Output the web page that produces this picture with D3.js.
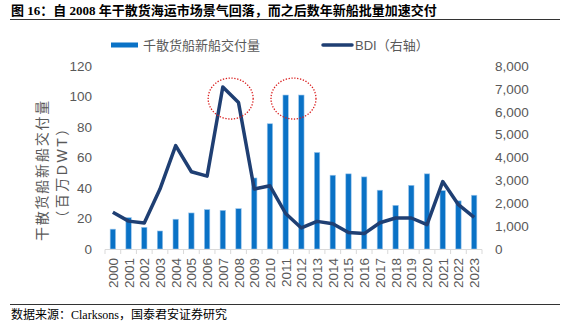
<!DOCTYPE html>
<html><head><meta charset="utf-8">
<script src="https://cdn.jsdelivr.net/npm/d3@7"></script>
<style>body{margin:0;background:#fff;}svg{display:block;}</style>
</head><body>
<svg id="c" width="570" height="331"></svg>
<script>
const years = ["2000","2001","2002","2003","2004","2005","2006","2007","2008","2009","2010","2011","2012","2013","2014","2015","2016","2017","2018","2019","2020","2021","2022","2023"];
const deliveries = [13,20.5,14.2,11.8,19.5,23.6,25.8,25.3,26.4,46.5,82,100.8,100.8,63.2,48.3,49.2,47.2,38.5,28.6,41.7,49.2,38.2,31.5,35.2];
const bdi = [1608,1217,1133,2617,4510,3371,3180,7070,6390,2617,2758,1549,920,1206,1105,718,673,1145,1353,1353,1066,2943,1934,1378];
const leftTicks = [0,20,40,60,80,100,120];
const rightTicks = [0,1000,2000,3000,4000,5000,6000,7000,8000];
const highlights = [["2007","2008",98.5],["2011","2012",98.5]];

const svg = d3.select("#c");
const gray = "#595959";
const sans = "'Liberation Sans', Arial, 'Noto Sans CJK SC', sans-serif";
const x = d3.scaleBand().domain(years).range([105,482]).padding(0);
const yL = d3.scaleLinear().domain([0,120]).range([249,65.7]);
const yR = d3.scaleLinear().domain([0,8000]).range([249,65.7]);

// title
svg.append("text").attr("x",11).attr("y",15)
  .attr("font-family","'Liberation Serif','Noto Sans CJK SC',serif").attr("font-weight","bold")
  .attr("font-size",13).attr("fill","#000")
  .text("图 16：自 2008 年干散货海运市场景气回落，而之后数年新船批量加速交付");
svg.append("line").attr("x1",10).attr("x2",560).attr("y1",19.5).attr("y2",19.5).attr("stroke","#333").attr("stroke-width",1);

// legend
svg.append("rect").attr("x",111).attr("y",42.5).attr("width",27).attr("height",5).attr("fill","#0a72c6");
svg.append("text").attr("x",143).attr("y",50).attr("font-family",sans).attr("font-size",13).attr("fill",gray).text("千散货船新船交付量");
svg.append("line").attr("x1",323).attr("x2",352).attr("y1",45).attr("y2",45).attr("stroke","#1f3f73").attr("stroke-width",3.5).attr("stroke-linecap","round");
svg.append("text").attr("x",355).attr("y",50).attr("font-family",sans).attr("font-size",13).attr("fill",gray).text("BDI（右轴）");

// left axis ticks
svg.append("g").selectAll("text").data(leftTicks).join("text")
  .attr("x",92).attr("y",d=>yL(d)+5).attr("text-anchor","end")
  .attr("font-family",sans).attr("font-size",13.5).attr("fill",gray).text(d=>d);
// right axis ticks
svg.append("g").selectAll("text").data(rightTicks).join("text")
  .attr("x",495).attr("y",d=>yR(d)+5).attr("text-anchor","start")
  .attr("font-family",sans).attr("font-size",13.5).attr("fill",gray).text(d=>d3.format(",")(d));

// left axis title
const t = svg.append("g").attr("transform","translate(47,170) rotate(-90)");
t.append("text").attr("x",0).attr("y",0).attr("text-anchor","middle")
  .attr("font-family",sans).attr("font-size",14).attr("letter-spacing",1.8).attr("fill",gray).text("干散货船新船交付量");
t.append("text").attr("x",-2).attr("y",20).attr("text-anchor","middle")
  .attr("font-family",sans).attr("font-size",14).attr("letter-spacing",2.5).attr("fill",gray).text("（百万DWT）");

// bars
svg.append("g").selectAll("rect").data(years).join("rect")
  .attr("x",(d)=>x(d)+x.bandwidth()/2-2.7).attr("width",5.4)
  .attr("y",(d,i)=>yL(deliveries[i])).attr("height",(d,i)=>yL(0)-yL(deliveries[i]))
  .attr("fill","#0a72c6").attr("stroke","#9cc6ec").attr("stroke-width",0.6);

// x axis
svg.append("line").attr("x1",105).attr("x2",482).attr("y1",249.5).attr("y2",249.5).attr("stroke","#d9d9d9").attr("stroke-width",1);
const bounds = years.map(d=>x(d)).concat([x.range()[1]]);
svg.append("g").selectAll("line").data(bounds).join("line")
  .attr("x1",d=>d).attr("x2",d=>d).attr("y1",249.5).attr("y2",254).attr("stroke","#d9d9d9");
svg.append("g").selectAll("text").data(years).join("text")
  .attr("transform",d=>`translate(${x(d)+x.bandwidth()/2+5},258) rotate(-90)`)
  .attr("text-anchor","end").attr("font-family",sans).attr("font-size",13.5).attr("fill",gray).text(d=>d);

// BDI line
svg.append("path").datum(bdi)
  .attr("d",d3.line().x((d,i)=>x(years[i])+x.bandwidth()/2).y(d=>yR(d)))
  .attr("fill","none").attr("stroke","#1f3f73").attr("stroke-width",3.5).attr("stroke-linejoin","round");

// highlight ellipses
svg.append("g").selectAll("ellipse").data(highlights).join("ellipse")
  .attr("cx",d=>(x(d[0])+x(d[1]))/2+x.bandwidth()/2).attr("cy",d=>yL(d[2]))
  .attr("rx",22.5).attr("ry",20.5).attr("fill","none").attr("stroke","#d91c1c")
  .attr("stroke-width",1.3).attr("stroke-dasharray","1.3,1.6");

// footer
svg.append("line").attr("x1",10).attr("x2",560).attr("y1",304.5).attr("y2",304.5).attr("stroke","#333").attr("stroke-width",1);
svg.append("text").attr("x",11).attr("y",319)
  .attr("font-family","'Liberation Serif','Noto Sans CJK SC',serif").attr("font-size",12).attr("fill","#000")
  .text("数据来源：Clarksons，国泰君安证券研究");
</script>
</body></html>
